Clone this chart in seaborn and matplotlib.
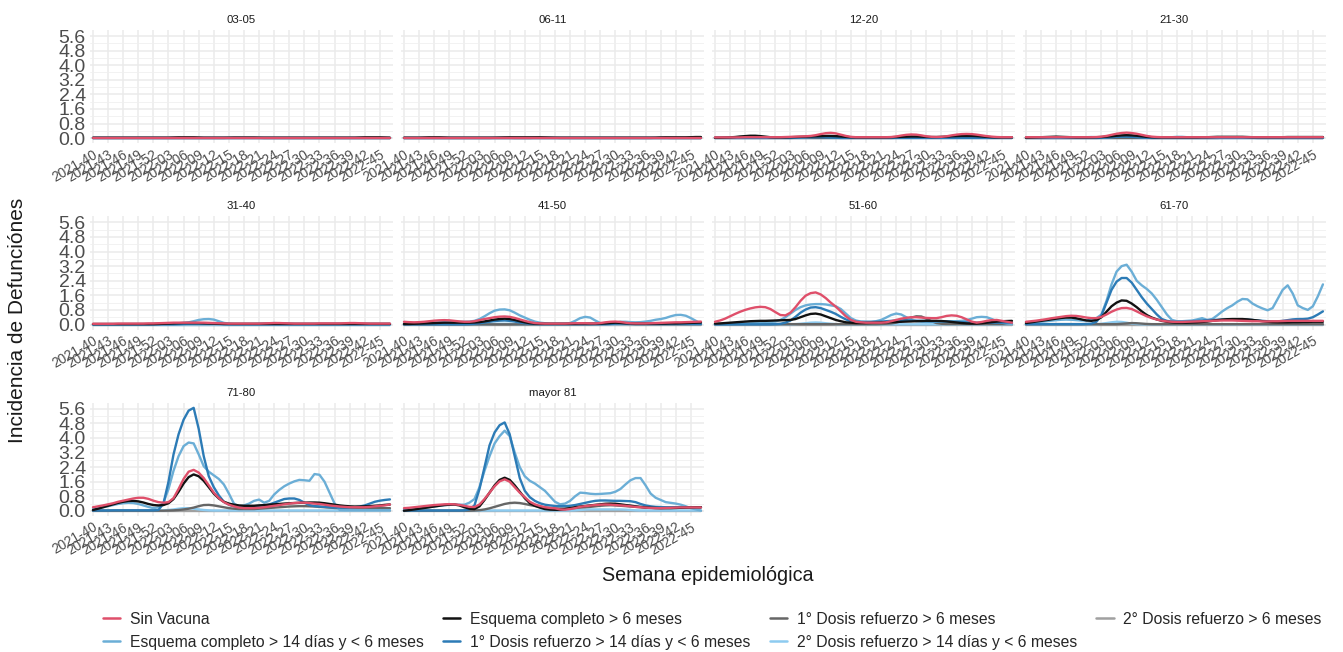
import numpy as np
import pandas as pd
import matplotlib
matplotlib.use("Agg")
import matplotlib.pyplot as plt
from matplotlib.lines import Line2D
from matplotlib.ticker import FixedLocator, AutoMinorLocator
import seaborn as sns

sns.set_style("white")
plt.rcParams["font.family"] = ["Liberation Sans", "DejaVu Sans"]

# ---------------- categories ----------------
weeks = [f"2021-{w:02d}" for w in range(40, 53)] + [f"2022-{w:02d}" for w in range(1, 48)]
tick_labels = weeks[::3]
y_ticks = [0.0, 0.8, 1.6, 2.4, 3.2, 4.0, 4.8, 5.6]

grupos = ["03-05", "06-11", "12-20", "21-30", "31-40", "41-50",
          "51-60", "61-70", "71-80", "mayor 81"]

series = ["Sin Vacuna",
          "Esquema completo > 14 días y < 6 meses",
          "Esquema completo > 6 meses",
          "1° Dosis refuerzo > 14 días y < 6 meses",
          "1° Dosis refuerzo > 6 meses",
          "2° Dosis refuerzo > 14 días y < 6 meses",
          "2° Dosis refuerzo > 6 meses"]
colores = ["#DF4F6A", "#6BAED6", "#111111", "#2C7BB6", "#666666", "#8DCBF0", "#A0A0A0"]

# ---------------- values (weekly, 2021-40 .. 2022-47) ----------------
# 03-05
sv_0305 = [0.03, 0.03, 0.03, 0.03, 0.03, 0.03, 0.03, 0.03, 0.03, 0.03,
           0.03, 0.03, 0.03, 0.03, 0.03, 0.03, 0.03, 0.03, 0.03, 0.03,
           0.03, 0.03, 0.03, 0.03, 0.03, 0.03, 0.03, 0.03, 0.03, 0.03,
           0.03, 0.03, 0.03, 0.03, 0.03, 0.03, 0.03, 0.03, 0.03, 0.03,
           0.03, 0.03, 0.03, 0.03, 0.03, 0.03, 0.03, 0.03, 0.03, 0.03,
           0.03, 0.03, 0.03, 0.03, 0.03, 0.03, 0.03, 0.03, 0.03, 0.03]
ec14_0305 = [0.01, 0.01, 0.01, 0.01, 0.01, 0.01, 0.01, 0.01, 0.01, 0.01,
             0.01, 0.01, 0.01, 0.01, 0.01, 0.01, 0.01, 0.01, 0.01, 0.01,
             0.01, 0.01, 0.01, 0.01, 0.01, 0.01, 0.01, 0.01, 0.01, 0.01,
             0.01, 0.01, 0.01, 0.01, 0.01, 0.01, 0.01, 0.01, 0.01, 0.01,
             0.01, 0.01, 0.01, 0.01, 0.01, 0.01, 0.01, 0.01, 0.01, 0.01,
             0.01, 0.01, 0.01, 0.01, 0.01, 0.01, 0.01, 0.01, 0.01, 0.01]
ec6_0305 = [0.02, 0.02, 0.02, 0.02, 0.02, 0.02, 0.02, 0.02, 0.02, 0.02,
            0.02, 0.02, 0.02, 0.02, 0.02, 0.02, 0.03, 0.04, 0.04, 0.04,
            0.04, 0.03, 0.02, 0.02, 0.02, 0.02, 0.02, 0.02, 0.02, 0.02,
            0.02, 0.02, 0.02, 0.02, 0.02, 0.02, 0.02, 0.02, 0.02, 0.02,
            0.02, 0.02, 0.02, 0.02, 0.02, 0.02, 0.02, 0.02, 0.02, 0.02,
            0.02, 0.02, 0.02, 0.03, 0.04, 0.04, 0.04, 0.04, 0.03, 0.02]
d114_0305 = [0, 0, 0, 0, 0, 0, 0, 0, 0, 0,
             0, 0, 0, 0, 0, 0, 0, 0, 0, 0,
             0, 0, 0, 0, 0, 0, 0, 0, 0, 0,
             0, 0, 0, 0, 0, 0, 0, 0, 0, 0,
             0, 0, 0, 0, 0, 0, 0, 0, 0, 0,
             0, 0, 0, 0, 0, 0, 0, 0, 0, 0]
d16_0305 = [0.01, 0.01, 0.01, 0.01, 0.01, 0.01, 0.01, 0.01, 0.01, 0.01,
            0.01, 0.01, 0.01, 0.01, 0.01, 0.01, 0.01, 0.01, 0.01, 0.01,
            0.01, 0.01, 0.01, 0.01, 0.01, 0.01, 0.01, 0.02, 0.04, 0.04,
            0.04, 0.04, 0.04, 0.02, 0.01, 0.01, 0.01, 0.01, 0.01, 0.01,
            0.01, 0.01, 0.01, 0.01, 0.01, 0.01, 0.01, 0.01, 0.01, 0.01,
            0.01, 0.01, 0.01, 0.01, 0.01, 0.01, 0.01, 0.01, 0.01, 0.01]
d214_0305 = [0, 0, 0, 0, 0, 0, 0, 0, 0, 0,
             0, 0, 0, 0, 0, 0, 0, 0, 0, 0,
             0, 0, 0, 0, 0, 0, 0, 0, 0, 0,
             0, 0, 0, 0, 0, 0, 0, 0, 0, 0,
             0, 0, 0, 0, 0, 0, 0, 0, 0, 0,
             0, 0, 0, 0, 0, 0, 0, 0, 0, 0]
d26_0305 = [0, 0, 0, 0, 0, 0, 0, 0, 0, 0,
            0, 0, 0, 0, 0, 0, 0, 0, 0, 0,
            0, 0, 0, 0, 0, 0, 0, 0, 0, 0,
            0, 0, 0, 0, 0, 0, 0, 0, 0, 0,
            0, 0, 0, 0, 0, 0, 0, 0, 0, 0,
            0, 0, 0, 0, 0, 0, 0, 0, 0, 0]

# 06-11
sv_0611 = [0.03, 0.03, 0.03, 0.03, 0.03, 0.03, 0.03, 0.03, 0.03, 0.03,
           0.03, 0.03, 0.03, 0.03, 0.03, 0.03, 0.03, 0.03, 0.03, 0.03,
           0.03, 0.03, 0.03, 0.03, 0.03, 0.03, 0.03, 0.03, 0.03, 0.03,
           0.03, 0.03, 0.03, 0.03, 0.03, 0.03, 0.03, 0.03, 0.03, 0.03,
           0.03, 0.03, 0.03, 0.03, 0.03, 0.03, 0.03, 0.03, 0.03, 0.03,
           0.03, 0.03, 0.03, 0.03, 0.03, 0.03, 0.03, 0.03, 0.03, 0.03]
ec14_0611 = [0.01, 0.01, 0.01, 0.01, 0.01, 0.01, 0.01, 0.01, 0.01, 0.01,
             0.01, 0.01, 0.01, 0.01, 0.01, 0.01, 0.01, 0.01, 0.01, 0.01,
             0.01, 0.01, 0.01, 0.01, 0.01, 0.01, 0.01, 0.01, 0.01, 0.01,
             0.01, 0.01, 0.01, 0.01, 0.01, 0.01, 0.01, 0.01, 0.01, 0.01,
             0.01, 0.01, 0.01, 0.01, 0.01, 0.01, 0.01, 0.01, 0.01, 0.01,
             0.01, 0.01, 0.01, 0.01, 0.01, 0.01, 0.01, 0.01, 0.01, 0.01]
ec6_0611 = [0.02, 0.02, 0.02, 0.02, 0.03, 0.04, 0.04, 0.04, 0.03, 0.02,
            0.02, 0.02, 0.02, 0.02, 0.02, 0.02, 0.02, 0.02, 0.02, 0.02,
            0.03, 0.04, 0.04, 0.04, 0.04, 0.04, 0.04, 0.04, 0.03, 0.02,
            0.02, 0.02, 0.02, 0.02, 0.02, 0.02, 0.02, 0.02, 0.02, 0.02,
            0.02, 0.02, 0.02, 0.02, 0.02, 0.02, 0.02, 0.02, 0.02, 0.02,
            0.02, 0.03, 0.04, 0.04, 0.04, 0.04, 0.04, 0.05, 0.06, 0.06]
d114_0611 = [0, 0, 0, 0, 0, 0, 0, 0, 0, 0,
             0, 0, 0, 0, 0, 0, 0, 0, 0, 0,
             0, 0, 0, 0, 0, 0, 0, 0, 0, 0,
             0, 0, 0, 0, 0, 0, 0, 0, 0, 0,
             0, 0, 0, 0, 0, 0, 0, 0, 0, 0,
             0, 0, 0, 0, 0, 0, 0, 0, 0, 0]
d16_0611 = [0.01, 0.01, 0.01, 0.01, 0.01, 0.01, 0.01, 0.01, 0.01, 0.01,
            0.01, 0.01, 0.01, 0.01, 0.01, 0.01, 0.01, 0.01, 0.02, 0.04,
            0.04, 0.02, 0.01, 0.01, 0.01, 0.01, 0.02, 0.04, 0.04, 0.04,
            0.02, 0.01, 0.01, 0.01, 0.01, 0.01, 0.01, 0.01, 0.01, 0.01,
            0.01, 0.01, 0.01, 0.01, 0.01, 0.01, 0.01, 0.01, 0.01, 0.01,
            0.02, 0.04, 0.02, 0.01, 0.01, 0.01, 0.01, 0.01, 0.01, 0.01]
d214_0611 = [0, 0, 0, 0, 0, 0, 0, 0, 0, 0,
             0, 0, 0, 0, 0, 0, 0, 0, 0, 0,
             0, 0, 0, 0, 0, 0, 0, 0, 0, 0,
             0, 0, 0, 0, 0, 0, 0, 0, 0, 0,
             0, 0, 0, 0, 0, 0, 0, 0, 0, 0,
             0, 0, 0, 0, 0, 0, 0, 0, 0, 0]
d26_0611 = [0, 0, 0, 0, 0, 0, 0, 0, 0, 0,
            0, 0, 0, 0, 0, 0, 0, 0, 0, 0,
            0, 0, 0, 0, 0, 0, 0, 0, 0, 0,
            0, 0, 0, 0, 0, 0, 0, 0, 0, 0,
            0, 0, 0, 0, 0, 0, 0, 0, 0, 0,
            0, 0, 0, 0, 0, 0, 0, 0, 0, 0]

# 12-20
sv_1220 = [0.04, 0.04, 0.04, 0.04, 0.04, 0.04, 0.05, 0.05, 0.05, 0.05,
           0.05, 0.05, 0.05, 0.05, 0.06, 0.07, 0.08, 0.09, 0.10, 0.12,
           0.16, 0.22, 0.27, 0.29, 0.26, 0.19, 0.12, 0.07, 0.05, 0.05,
           0.05, 0.05, 0.05, 0.05, 0.05, 0.06, 0.09, 0.14, 0.18, 0.20,
           0.19, 0.15, 0.10, 0.07, 0.06, 0.07, 0.10, 0.15, 0.19, 0.22,
           0.23, 0.22, 0.19, 0.15, 0.11, 0.08, 0.06, 0.05, 0.05, 0.05]
ec14_1220 = [0.02, 0.02, 0.02, 0.02, 0.02, 0.02, 0.02, 0.02, 0.02, 0.02,
             0.02, 0.02, 0.02, 0.02, 0.02, 0.03, 0.03, 0.04, 0.05, 0.06,
             0.07, 0.07, 0.07, 0.06, 0.05, 0.04, 0.03, 0.02, 0.02, 0.02,
             0.02, 0.02, 0.02, 0.02, 0.02, 0.03, 0.04, 0.05, 0.05, 0.05,
             0.04, 0.03, 0.02, 0.02, 0.02, 0.02, 0.02, 0.02, 0.02, 0.02,
             0.02, 0.02, 0.02, 0.02, 0.02, 0.02, 0.02, 0.02, 0.02, 0.02]
ec6_1220 = [0.02, 0.02, 0.03, 0.04, 0.06, 0.09, 0.11, 0.13, 0.13, 0.11,
            0.08, 0.05, 0.04, 0.04, 0.04, 0.05, 0.06, 0.07, 0.08, 0.09,
            0.10, 0.11, 0.12, 0.12, 0.11, 0.09, 0.07, 0.05, 0.04, 0.04,
            0.04, 0.04, 0.04, 0.04, 0.04, 0.05, 0.06, 0.07, 0.08, 0.09,
            0.09, 0.08, 0.07, 0.06, 0.06, 0.07, 0.08, 0.10, 0.11, 0.12,
            0.12, 0.12, 0.11, 0.09, 0.07, 0.05, 0.04, 0.04, 0.04, 0.04]
d114_1220 = [0.01, 0.01, 0.01, 0.01, 0.01, 0.01, 0.01, 0.01, 0.01, 0.01,
             0.01, 0.01, 0.01, 0.01, 0.01, 0.01, 0.02, 0.03, 0.04, 0.05,
             0.05, 0.05, 0.04, 0.03, 0.02, 0.01, 0.01, 0.01, 0.01, 0.01,
             0.01, 0.01, 0.01, 0.01, 0.01, 0.01, 0.01, 0.01, 0.01, 0.01,
             0.01, 0.01, 0.01, 0.01, 0.01, 0.01, 0.01, 0.01, 0.01, 0.01,
             0.01, 0.01, 0.01, 0.01, 0.01, 0.01, 0.01, 0.01, 0.01, 0.01]
d16_1220 = [0.01, 0.01, 0.01, 0.01, 0.01, 0.01, 0.01, 0.01, 0.01, 0.01,
            0.01, 0.01, 0.01, 0.01, 0.01, 0.01, 0.01, 0.01, 0.01, 0.01,
            0.01, 0.01, 0.01, 0.01, 0.01, 0.01, 0.01, 0.01, 0.01, 0.01,
            0.01, 0.01, 0.01, 0.01, 0.01, 0.01, 0.02, 0.03, 0.04, 0.05,
            0.05, 0.04, 0.03, 0.02, 0.02, 0.02, 0.03, 0.04, 0.05, 0.06,
            0.06, 0.06, 0.05, 0.04, 0.03, 0.02, 0.02, 0.02, 0.02, 0.02]
d214_1220 = [0, 0, 0, 0, 0, 0, 0, 0, 0, 0,
             0, 0, 0, 0, 0, 0, 0, 0, 0, 0,
             0, 0, 0, 0, 0, 0, 0, 0, 0, 0,
             0, 0, 0, 0, 0, 0, 0, 0, 0, 0,
             0, 0, 0, 0, 0, 0, 0, 0, 0, 0,
             0, 0, 0, 0, 0, 0, 0, 0, 0, 0]
d26_1220 = [0, 0, 0, 0, 0, 0, 0, 0, 0, 0,
            0, 0, 0, 0, 0, 0, 0, 0, 0, 0,
            0, 0, 0, 0, 0, 0, 0, 0, 0, 0,
            0, 0, 0, 0, 0, 0, 0, 0, 0, 0,
            0, 0, 0, 0, 0, 0, 0, 0, 0, 0,
            0, 0, 0, 0, 0, 0, 0, 0, 0, 0]

# 21-30
sv_2130 = [0.05, 0.05, 0.05, 0.05, 0.05, 0.05, 0.05, 0.05, 0.05, 0.05,
           0.05, 0.05, 0.05, 0.05, 0.06, 0.08, 0.12, 0.18, 0.24, 0.28,
           0.30, 0.28, 0.24, 0.18, 0.12, 0.08, 0.06, 0.05, 0.05, 0.05,
           0.05, 0.05, 0.05, 0.05, 0.05, 0.05, 0.05, 0.05, 0.05, 0.05,
           0.05, 0.05, 0.05, 0.05, 0.05, 0.05, 0.05, 0.05, 0.05, 0.05,
           0.05, 0.05, 0.05, 0.05, 0.05, 0.05, 0.05, 0.05, 0.05, 0.05]
ec14_2130 = [0.02, 0.02, 0.02, 0.02, 0.02, 0.02, 0.02, 0.02, 0.02, 0.02,
             0.02, 0.03, 0.05, 0.06, 0.05, 0.04, 0.05, 0.06, 0.08, 0.09,
             0.10, 0.09, 0.07, 0.05, 0.03, 0.02, 0.02, 0.02, 0.03, 0.05,
             0.07, 0.07, 0.05, 0.03, 0.02, 0.02, 0.02, 0.02, 0.02, 0.02,
             0.02, 0.02, 0.02, 0.02, 0.02, 0.02, 0.02, 0.02, 0.02, 0.02,
             0.02, 0.02, 0.02, 0.02, 0.02, 0.02, 0.02, 0.02, 0.02, 0.02]
ec6_2130 = [0.02, 0.03, 0.04, 0.05, 0.06, 0.07, 0.08, 0.07, 0.06, 0.05,
            0.04, 0.04, 0.04, 0.04, 0.05, 0.06, 0.08, 0.10, 0.13, 0.15,
            0.16, 0.15, 0.13, 0.10, 0.07, 0.05, 0.04, 0.04, 0.04, 0.04,
            0.04, 0.04, 0.04, 0.04, 0.04, 0.05, 0.05, 0.06, 0.07, 0.07,
            0.07, 0.07, 0.07, 0.07, 0.06, 0.05, 0.05, 0.05, 0.05, 0.05,
            0.05, 0.05, 0.06, 0.06, 0.06, 0.06, 0.06, 0.06, 0.06, 0.06]
d114_2130 = [0.01, 0.01, 0.01, 0.01, 0.01, 0.01, 0.01, 0.01, 0.01, 0.01,
             0.01, 0.01, 0.01, 0.01, 0.01, 0.02, 0.03, 0.05, 0.07, 0.08,
             0.08, 0.07, 0.05, 0.03, 0.02, 0.01, 0.01, 0.01, 0.01, 0.01,
             0.01, 0.01, 0.01, 0.01, 0.01, 0.01, 0.01, 0.01, 0.01, 0.01,
             0.01, 0.01, 0.01, 0.01, 0.01, 0.01, 0.01, 0.01, 0.01, 0.01,
             0.01, 0.01, 0.01, 0.01, 0.01, 0.01, 0.01, 0.01, 0.01, 0.01]
d16_2130 = [0.01, 0.01, 0.01, 0.01, 0.01, 0.01, 0.01, 0.01, 0.01, 0.01,
            0.01, 0.01, 0.01, 0.01, 0.01, 0.01, 0.01, 0.01, 0.01, 0.01,
            0.01, 0.01, 0.01, 0.01, 0.01, 0.01, 0.01, 0.01, 0.01, 0.01,
            0.01, 0.01, 0.01, 0.01, 0.01, 0.01, 0.01, 0.01, 0.01, 0.02,
            0.03, 0.05, 0.05, 0.05, 0.03, 0.02, 0.01, 0.01, 0.01, 0.01,
            0.01, 0.01, 0.01, 0.01, 0.01, 0.01, 0.01, 0.01, 0.01, 0.01]
d214_2130 = [0, 0, 0, 0, 0, 0, 0, 0, 0, 0,
             0, 0, 0, 0, 0, 0, 0, 0, 0, 0,
             0, 0, 0, 0, 0, 0, 0, 0, 0, 0,
             0, 0, 0, 0, 0, 0, 0, 0, 0, 0,
             0, 0, 0, 0, 0, 0, 0, 0, 0, 0,
             0, 0, 0, 0, 0, 0, 0, 0, 0, 0]
d26_2130 = [0, 0, 0, 0, 0, 0, 0, 0, 0, 0,
            0, 0, 0, 0, 0, 0, 0, 0, 0, 0,
            0, 0, 0, 0, 0, 0, 0, 0, 0, 0,
            0, 0, 0, 0, 0, 0, 0, 0, 0, 0,
            0, 0, 0, 0, 0, 0, 0, 0, 0, 0,
            0, 0, 0, 0, 0, 0, 0, 0, 0, 0]

# 31-40
sv_3140 = [0.04, 0.04, 0.04, 0.04, 0.04, 0.05, 0.05, 0.05, 0.05, 0.05,
           0.05, 0.06, 0.06, 0.07, 0.08, 0.09, 0.10, 0.10, 0.10, 0.10,
           0.10, 0.10, 0.10, 0.09, 0.08, 0.07, 0.06, 0.05, 0.05, 0.05,
           0.05, 0.05, 0.05, 0.05, 0.06, 0.07, 0.08, 0.08, 0.07, 0.06,
           0.05, 0.05, 0.05, 0.05, 0.05, 0.06, 0.06, 0.06, 0.06, 0.06,
           0.07, 0.08, 0.08, 0.07, 0.06, 0.05, 0.05, 0.05, 0.05, 0.05]
ec14_3140 = [0.02, 0.02, 0.02, 0.02, 0.02, 0.02, 0.02, 0.02, 0.02, 0.02,
             0.02, 0.02, 0.03, 0.03, 0.04, 0.05, 0.06, 0.07, 0.09, 0.12,
             0.18, 0.25, 0.29, 0.30, 0.27, 0.18, 0.09, 0.05, 0.03, 0.03,
             0.03, 0.03, 0.03, 0.04, 0.05, 0.07, 0.08, 0.07, 0.05, 0.04,
             0.03, 0.03, 0.03, 0.03, 0.03, 0.03, 0.03, 0.03, 0.03, 0.03,
             0.03, 0.03, 0.03, 0.03, 0.03, 0.03, 0.03, 0.03, 0.03, 0.03]
ec6_3140 = [0.02, 0.02, 0.02, 0.02, 0.02, 0.02, 0.02, 0.02, 0.02, 0.02,
            0.02, 0.02, 0.02, 0.03, 0.04, 0.05, 0.06, 0.07, 0.08, 0.08,
            0.08, 0.08, 0.07, 0.06, 0.05, 0.04, 0.03, 0.03, 0.03, 0.03,
            0.03, 0.03, 0.03, 0.03, 0.03, 0.03, 0.03, 0.03, 0.03, 0.03,
            0.03, 0.03, 0.03, 0.03, 0.03, 0.03, 0.03, 0.03, 0.03, 0.03,
            0.03, 0.03, 0.03, 0.03, 0.03, 0.03, 0.03, 0.03, 0.03, 0.03]
d114_3140 = [0.01, 0.01, 0.01, 0.01, 0.01, 0.01, 0.01, 0.01, 0.01, 0.01,
             0.01, 0.01, 0.01, 0.01, 0.01, 0.01, 0.01, 0.02, 0.03, 0.04,
             0.05, 0.05, 0.05, 0.05, 0.04, 0.03, 0.02, 0.01, 0.01, 0.01,
             0.01, 0.01, 0.01, 0.01, 0.01, 0.01, 0.01, 0.01, 0.01, 0.01,
             0.01, 0.01, 0.01, 0.01, 0.01, 0.01, 0.01, 0.01, 0.01, 0.01,
             0.01, 0.01, 0.01, 0.01, 0.01, 0.01, 0.01, 0.01, 0.01, 0.01]
d16_3140 = [0.01, 0.01, 0.01, 0.01, 0.01, 0.01, 0.01, 0.01, 0.01, 0.01,
            0.01, 0.01, 0.01, 0.01, 0.01, 0.01, 0.01, 0.01, 0.01, 0.01,
            0.01, 0.01, 0.01, 0.01, 0.01, 0.01, 0.01, 0.01, 0.01, 0.01,
            0.01, 0.01, 0.01, 0.01, 0.01, 0.01, 0.01, 0.01, 0.01, 0.01,
            0.01, 0.01, 0.01, 0.01, 0.01, 0.01, 0.01, 0.01, 0.01, 0.01,
            0.01, 0.01, 0.01, 0.01, 0.01, 0.01, 0.01, 0.01, 0.01, 0.01]
d214_3140 = [0, 0, 0, 0, 0, 0, 0, 0, 0, 0,
             0, 0, 0, 0, 0, 0, 0, 0, 0, 0,
             0, 0, 0, 0, 0, 0, 0, 0, 0, 0,
             0, 0, 0, 0, 0, 0, 0, 0, 0, 0,
             0, 0, 0, 0, 0, 0, 0, 0, 0, 0,
             0, 0, 0, 0, 0, 0, 0, 0, 0, 0]
d26_3140 = [0, 0, 0, 0, 0, 0, 0, 0, 0, 0,
            0, 0, 0, 0, 0, 0, 0, 0, 0, 0,
            0, 0, 0, 0, 0, 0, 0, 0, 0, 0,
            0, 0, 0, 0, 0, 0, 0, 0, 0, 0,
            0, 0, 0, 0, 0, 0, 0, 0, 0, 0,
            0, 0, 0, 0, 0, 0, 0, 0, 0, 0]

# 41-50
sv_4150 = [0.15, 0.13, 0.12, 0.13, 0.15, 0.18, 0.21, 0.23, 0.24, 0.23,
           0.20, 0.17, 0.15, 0.15, 0.18, 0.24, 0.30, 0.35, 0.40, 0.43,
           0.44, 0.42, 0.36, 0.28, 0.20, 0.13, 0.08, 0.06, 0.05, 0.05,
           0.05, 0.05, 0.05, 0.06, 0.07, 0.07, 0.07, 0.06, 0.06, 0.08,
           0.12, 0.15, 0.16, 0.14, 0.10, 0.07, 0.06, 0.06, 0.06, 0.07,
           0.08, 0.09, 0.10, 0.11, 0.12, 0.12, 0.13, 0.14, 0.15, 0.16]
ec14_4150 = [0.05, 0.05, 0.05, 0.06, 0.07, 0.08, 0.10, 0.12, 0.13, 0.14,
             0.15, 0.15, 0.15, 0.16, 0.20, 0.30, 0.45, 0.62, 0.76, 0.82,
             0.83, 0.78, 0.65, 0.50, 0.38, 0.26, 0.16, 0.10, 0.07, 0.05,
             0.05, 0.05, 0.05, 0.08, 0.20, 0.35, 0.42, 0.38, 0.22, 0.08,
             0.05, 0.06, 0.10, 0.15, 0.15, 0.13, 0.12, 0.13, 0.16, 0.20,
             0.26, 0.30, 0.36, 0.45, 0.52, 0.53, 0.48, 0.35, 0.20, 0.05]
ec6_4150 = [0.03, 0.03, 0.04, 0.05, 0.06, 0.07, 0.08, 0.09, 0.10, 0.10,
            0.10, 0.10, 0.10, 0.10, 0.11, 0.13, 0.17, 0.22, 0.27, 0.30,
            0.32, 0.30, 0.25, 0.18, 0.12, 0.07, 0.05, 0.04, 0.04, 0.04,
            0.04, 0.04, 0.04, 0.04, 0.04, 0.05, 0.05, 0.05, 0.05, 0.05,
            0.06, 0.08, 0.10, 0.09, 0.07, 0.06, 0.05, 0.05, 0.05, 0.05,
            0.05, 0.05, 0.05, 0.06, 0.06, 0.07, 0.08, 0.09, 0.10, 0.11]
d114_4150 = [0.01, 0.01, 0.01, 0.01, 0.01, 0.01, 0.01, 0.01, 0.01, 0.01,
             0.01, 0.01, 0.01, 0.02, 0.04, 0.07, 0.11, 0.15, 0.19, 0.21,
             0.22, 0.20, 0.16, 0.11, 0.07, 0.04, 0.03, 0.02, 0.02, 0.02,
             0.02, 0.02, 0.02, 0.02, 0.02, 0.02, 0.02, 0.02, 0.02, 0.02,
             0.02, 0.03, 0.05, 0.06, 0.05, 0.04, 0.03, 0.03, 0.03, 0.03,
             0.03, 0.03, 0.03, 0.03, 0.03, 0.03, 0.03, 0.03, 0.03, 0.03]
d16_4150 = [0.01, 0.01, 0.01, 0.01, 0.01, 0.01, 0.01, 0.01, 0.01, 0.01,
            0.01, 0.01, 0.01, 0.01, 0.01, 0.01, 0.01, 0.01, 0.01, 0.01,
            0.01, 0.01, 0.01, 0.01, 0.01, 0.01, 0.01, 0.01, 0.01, 0.01,
            0.01, 0.01, 0.01, 0.01, 0.01, 0.01, 0.01, 0.01, 0.02, 0.03,
            0.04, 0.05, 0.05, 0.05, 0.04, 0.03, 0.02, 0.02, 0.02, 0.02,
            0.02, 0.02, 0.02, 0.02, 0.02, 0.02, 0.02, 0.02, 0.02, 0.02]
d214_4150 = [0.01, 0.01, 0.01, 0.01, 0.01, 0.01, 0.01, 0.01, 0.01, 0.01,
             0.01, 0.01, 0.01, 0.01, 0.01, 0.01, 0.01, 0.02, 0.04, 0.04,
             0.04, 0.04, 0.02, 0.01, 0.01, 0.01, 0.01, 0.01, 0.01, 0.01,
             0.01, 0.01, 0.01, 0.01, 0.01, 0.01, 0.01, 0.01, 0.01, 0.01,
             0.01, 0.01, 0.01, 0.01, 0.01, 0.01, 0.01, 0.01, 0.01, 0.01,
             0.01, 0.01, 0.01, 0.01, 0.01, 0.01, 0.01, 0.01, 0.01, 0.01]
d26_4150 = [0, 0, 0, 0, 0, 0, 0, 0, 0, 0,
            0, 0, 0, 0, 0, 0, 0, 0, 0, 0,
            0, 0, 0, 0, 0, 0, 0, 0, 0, 0,
            0, 0, 0, 0, 0, 0, 0, 0, 0, 0,
            0, 0, 0, 0, 0, 0, 0, 0, 0, 0,
            0, 0, 0, 0, 0, 0, 0, 0, 0, 0]

# 51-60
sv_5160 = [0.15, 0.22, 0.32, 0.45, 0.58, 0.70, 0.80, 0.88, 0.94, 0.97,
           0.95, 0.85, 0.68, 0.52, 0.50, 0.65, 0.95, 1.30, 1.58, 1.72,
           1.76, 1.65, 1.45, 1.20, 0.98, 0.72, 0.45, 0.25, 0.15, 0.12,
           0.10, 0.10, 0.10, 0.10, 0.12, 0.18, 0.25, 0.32, 0.37, 0.40,
           0.40, 0.38, 0.36, 0.35, 0.35, 0.40, 0.47, 0.50, 0.48, 0.40,
           0.28, 0.16, 0.10, 0.14, 0.20, 0.24, 0.25, 0.20, 0.15, 0.10]
ec14_5160 = [0.02, 0.02, 0.03, 0.03, 0.04, 0.05, 0.06, 0.07, 0.08, 0.10,
             0.12, 0.14, 0.16, 0.25, 0.40, 0.60, 0.80, 0.95, 1.05, 1.10,
             1.12, 1.12, 1.10, 1.05, 1.00, 0.85, 0.60, 0.35, 0.22, 0.16,
             0.15, 0.15, 0.18, 0.25, 0.38, 0.52, 0.60, 0.55, 0.40, 0.25,
             0.18, 0.15, 0.14, 0.14, 0.15, 0.16, 0.17, 0.18, 0.18, 0.20,
             0.24, 0.32, 0.40, 0.42, 0.40, 0.30, 0.18, 0.10, 0.05, 0.03]
ec6_5160 = [0.05, 0.06, 0.08, 0.10, 0.12, 0.14, 0.16, 0.18, 0.19, 0.20,
            0.20, 0.21, 0.22, 0.23, 0.24, 0.25, 0.30, 0.40, 0.50, 0.58,
            0.60, 0.55, 0.45, 0.35, 0.25, 0.18, 0.12, 0.10, 0.08, 0.08,
            0.08, 0.09, 0.10, 0.11, 0.12, 0.13, 0.14, 0.15, 0.16, 0.17,
            0.18, 0.19, 0.20, 0.20, 0.20, 0.19, 0.17, 0.14, 0.11, 0.08,
            0.06, 0.05, 0.05, 0.07, 0.10, 0.13, 0.16, 0.18, 0.19, 0.20]
d114_5160 = [0.01, 0.01, 0.01, 0.01, 0.01, 0.01, 0.01, 0.01, 0.01, 0.01,
             0.01, 0.01, 0.02, 0.04, 0.10, 0.22, 0.42, 0.65, 0.82, 0.93,
             0.95, 0.90, 0.80, 0.70, 0.58, 0.42, 0.28, 0.18, 0.15, 0.14,
             0.14, 0.14, 0.15, 0.16, 0.18, 0.20, 0.22, 0.22, 0.22, 0.22,
             0.21, 0.20, 0.19, 0.18, 0.18, 0.17, 0.16, 0.15, 0.14, 0.13,
             0.12, 0.11, 0.10, 0.10, 0.10, 0.10, 0.10, 0.10, 0.10, 0.10]
d16_5160 = [0.02, 0.02, 0.02, 0.02, 0.02, 0.02, 0.02, 0.02, 0.02, 0.02,
            0.02, 0.02, 0.02, 0.02, 0.02, 0.02, 0.02, 0.02, 0.02, 0.02,
            0.02, 0.02, 0.02, 0.02, 0.02, 0.02, 0.02, 0.02, 0.02, 0.02,
            0.02, 0.02, 0.02, 0.03, 0.04, 0.06, 0.10, 0.18, 0.28, 0.38,
            0.45, 0.44, 0.32, 0.18, 0.08, 0.04, 0.03, 0.03, 0.03, 0.03,
            0.03, 0.03, 0.03, 0.03, 0.03, 0.03, 0.03, 0.03, 0.03, 0.03]
d214_5160 = [0.01, 0.01, 0.01, 0.01, 0.01, 0.01, 0.01, 0.01, 0.01, 0.01,
             0.01, 0.01, 0.01, 0.01, 0.01, 0.01, 0.02, 0.04, 0.07, 0.10,
             0.11, 0.10, 0.07, 0.04, 0.02, 0.01, 0.01, 0.01, 0.01, 0.01,
             0.01, 0.01, 0.01, 0.01, 0.01, 0.01, 0.01, 0.01, 0.01, 0.01,
             0.01, 0.01, 0.01, 0.01, 0.01, 0.01, 0.01, 0.01, 0.01, 0.01,
             0.01, 0.01, 0.01, 0.01, 0.01, 0.01, 0.01, 0.01, 0.01, 0.01]
d26_5160 = [0, 0, 0, 0, 0, 0, 0, 0, 0, 0,
            0, 0, 0, 0, 0, 0, 0, 0, 0, 0,
            0, 0, 0, 0, 0, 0, 0, 0, 0, 0,
            0, 0, 0, 0, 0, 0, 0, 0, 0, 0,
            0, 0, 0, 0, 0, 0, 0, 0, 0, 0,
            0, 0, 0, 0, 0, 0, 0, 0, 0, 0]

# 61-70
sv_6170 = [0.15, 0.18, 0.21, 0.25, 0.29, 0.34, 0.38, 0.42, 0.46, 0.48,
           0.47, 0.43, 0.38, 0.35, 0.35, 0.42, 0.55, 0.70, 0.82, 0.90,
           0.91, 0.85, 0.72, 0.58, 0.45, 0.35, 0.27, 0.21, 0.17, 0.15,
           0.14, 0.14, 0.15, 0.16, 0.17, 0.18, 0.19, 0.20, 0.21, 0.22,
           0.22, 0.22, 0.21, 0.20, 0.19, 0.18, 0.18, 0.17, 0.17, 0.18,
           0.18, 0.19, 0.20, 0.20, 0.20, 0.20, 0.20, 0.20, 0.20, 0.20]
ec14_6170 = [0.08, 0.10, 0.12, 0.15, 0.18, 0.21, 0.24, 0.26, 0.27, 0.26,
             0.24, 0.22, 0.22, 0.26, 0.35, 0.55, 1.30, 2.20, 2.90, 3.20,
             3.28, 2.90, 2.40, 2.15, 1.95, 1.70, 1.35, 0.95, 0.55, 0.25,
             0.18, 0.18, 0.20, 0.22, 0.28, 0.35, 0.25, 0.30, 0.50, 0.72,
             0.90, 1.05, 1.25, 1.40, 1.38, 1.15, 1.00, 0.88, 0.78, 0.90,
             1.40, 1.90, 2.15, 1.70, 1.05, 0.90, 0.80, 1.00, 1.55, 2.20]
ec6_6170 = [0.08, 0.12, 0.16, 0.20, 0.24, 0.28, 0.32, 0.36, 0.38, 0.38,
            0.34, 0.28, 0.22, 0.20, 0.25, 0.40, 0.70, 1.00, 1.20, 1.32,
            1.30, 1.15, 0.95, 0.72, 0.52, 0.38, 0.28, 0.20, 0.15, 0.12,
            0.10, 0.10, 0.10, 0.11, 0.12, 0.14, 0.16, 0.20, 0.24, 0.27,
            0.29, 0.30, 0.30, 0.30, 0.28, 0.25, 0.22, 0.18, 0.15, 0.13,
            0.12, 0.12, 0.12, 0.13, 0.13, 0.14, 0.14, 0.15, 0.15, 0.15]
d114_6170 = [0.02, 0.02, 0.02, 0.02, 0.02, 0.02, 0.02, 0.02, 0.02, 0.02,
             0.02, 0.02, 0.03, 0.05, 0.15, 0.50, 1.20, 1.90, 2.35, 2.55,
             2.55, 2.30, 1.90, 1.50, 1.15, 0.85, 0.55, 0.30, 0.20, 0.16,
             0.15, 0.15, 0.16, 0.18, 0.20, 0.22, 0.24, 0.25, 0.26, 0.27,
             0.28, 0.28, 0.28, 0.28, 0.27, 0.25, 0.22, 0.20, 0.18, 0.17,
             0.17, 0.20, 0.24, 0.28, 0.30, 0.30, 0.32, 0.40, 0.55, 0.72]
d16_6170 = [0.02, 0.02, 0.02, 0.02, 0.02, 0.02, 0.02, 0.02, 0.02, 0.02,
            0.02, 0.02, 0.02, 0.02, 0.02, 0.02, 0.02, 0.02, 0.02, 0.04,
            0.06, 0.08, 0.07, 0.05, 0.03, 0.02, 0.02, 0.02, 0.02, 0.02,
            0.02, 0.02, 0.02, 0.02, 0.02, 0.02, 0.02, 0.02, 0.02, 0.02,
            0.02, 0.02, 0.02, 0.02, 0.02, 0.02, 0.02, 0.02, 0.02, 0.02,
            0.02, 0.02, 0.02, 0.02, 0.02, 0.02, 0.02, 0.02, 0.02, 0.02]
d214_6170 = [0.01, 0.01, 0.01, 0.01, 0.01, 0.01, 0.01, 0.01, 0.01, 0.01,
             0.01, 0.01, 0.01, 0.01, 0.01, 0.04, 0.08, 0.12, 0.15, 0.14,
             0.10, 0.05, 0.02, 0.01, 0.01, 0.01, 0.01, 0.01, 0.01, 0.01,
             0.01, 0.01, 0.01, 0.01, 0.01, 0.01, 0.01, 0.01, 0.01, 0.01,
             0.01, 0.01, 0.01, 0.01, 0.01, 0.01, 0.01, 0.01, 0.01, 0.01,
             0.01, 0.01, 0.01, 0.01, 0.01, 0.01, 0.01, 0.01, 0.01, 0.01]
d26_6170 = [0, 0, 0, 0, 0, 0, 0, 0, 0, 0,
            0, 0, 0, 0, 0, 0, 0, 0, 0, 0,
            0, 0, 0, 0, 0, 0, 0, 0, 0, 0,
            0, 0, 0, 0, 0, 0, 0, 0, 0, 0,
            0, 0, 0, 0, 0, 0, 0, 0, 0, 0,
            0, 0, 0, 0, 0, 0, 0, 0, 0, 0]

# 71-80
sv_7180 = [0.20, 0.25, 0.30, 0.36, 0.42, 0.50, 0.56, 0.62, 0.68, 0.72,
           0.72, 0.66, 0.56, 0.48, 0.45, 0.48, 0.70, 1.20, 1.75, 2.15,
           2.25, 2.10, 1.80, 1.40, 1.00, 0.70, 0.48, 0.34, 0.25, 0.18,
           0.15, 0.15, 0.15, 0.17, 0.20, 0.24, 0.28, 0.32, 0.36, 0.40,
           0.43, 0.45, 0.45, 0.43, 0.40, 0.38, 0.34, 0.30, 0.27, 0.24,
           0.22, 0.20, 0.20, 0.20, 0.20, 0.22, 0.25, 0.28, 0.30, 0.35]
ec14_7180 = [0.10, 0.14, 0.20, 0.26, 0.32, 0.38, 0.42, 0.44, 0.43, 0.38,
             0.30, 0.22, 0.15, 0.20, 0.45, 1.20, 2.20, 3.00, 3.55, 3.75,
             3.70, 3.10, 2.45, 2.15, 1.95, 1.75, 1.45, 0.95, 0.40, 0.25,
             0.30, 0.40, 0.55, 0.62, 0.45, 0.55, 0.90, 1.15, 1.35, 1.50,
             1.62, 1.70, 1.68, 1.65, 2.02, 1.98, 1.60, 1.00, 0.40, 0.05,
             0.04, 0.04, 0.04, 0.04, 0.04, 0.04, 0.04, 0.04, 0.04, 0.04]
ec6_7180 = [0.05, 0.12, 0.20, 0.28, 0.36, 0.44, 0.50, 0.54, 0.55, 0.52,
            0.46, 0.38, 0.32, 0.30, 0.32, 0.42, 0.65, 1.05, 1.50, 1.85,
            2.00, 1.90, 1.65, 1.30, 0.95, 0.68, 0.50, 0.40, 0.34, 0.30,
            0.28, 0.28, 0.28, 0.30, 0.32, 0.34, 0.36, 0.38, 0.40, 0.42,
            0.43, 0.44, 0.45, 0.46, 0.46, 0.45, 0.42, 0.38, 0.34, 0.30,
            0.27, 0.25, 0.24, 0.24, 0.25, 0.26, 0.28, 0.30, 0.33, 0.35]
d114_7180 = [0.02, 0.02, 0.02, 0.02, 0.03, 0.03, 0.03, 0.03, 0.03, 0.03,
             0.03, 0.03, 0.03, 0.05, 0.40, 1.60, 3.10, 4.20, 5.00, 5.50,
             5.65, 4.50, 3.00, 1.90, 1.30, 0.85, 0.50, 0.34, 0.25, 0.22,
             0.22, 0.24, 0.26, 0.28, 0.30, 0.35, 0.45, 0.55, 0.65, 0.68,
             0.68, 0.60, 0.45, 0.32, 0.26, 0.24, 0.22, 0.20, 0.18, 0.18,
             0.18, 0.18, 0.20, 0.24, 0.30, 0.40, 0.50, 0.56, 0.60, 0.63]
d16_7180 = [0.01, 0.01, 0.01, 0.01, 0.01, 0.01, 0.01, 0.01, 0.01, 0.01,
            0.01, 0.01, 0.01, 0.01, 0.01, 0.02, 0.03, 0.05, 0.08, 0.12,
            0.18, 0.26, 0.32, 0.33, 0.30, 0.25, 0.20, 0.15, 0.12, 0.10,
            0.10, 0.10, 0.10, 0.12, 0.14, 0.16, 0.18, 0.20, 0.22, 0.24,
            0.25, 0.26, 0.26, 0.25, 0.24, 0.22, 0.20, 0.18, 0.16, 0.15,
            0.14, 0.14, 0.14, 0.14, 0.15, 0.15, 0.15, 0.15, 0.15, 0.15]
d214_7180 = [0.02, 0.02, 0.02, 0.02, 0.02, 0.02, 0.02, 0.02, 0.02, 0.02,
             0.02, 0.02, 0.02, 0.02, 0.03, 0.05, 0.08, 0.12, 0.15, 0.15,
             0.12, 0.08, 0.05, 0.03, 0.02, 0.02, 0.02, 0.02, 0.02, 0.02,
             0.02, 0.02, 0.02, 0.02, 0.02, 0.02, 0.02, 0.02, 0.02, 0.02,
             0.02, 0.02, 0.02, 0.02, 0.02, 0.02, 0.02, 0.02, 0.02, 0.02,
             0.02, 0.02, 0.02, 0.02, 0.02, 0.02, 0.02, 0.02, 0.02, 0.02]
d26_7180 = [0, 0, 0, 0, 0, 0, 0, 0, 0, 0,
            0, 0, 0, 0, 0, 0, 0, 0, 0, 0,
            0, 0, 0, 0, 0, 0, 0, 0, 0, 0,
            0, 0, 0, 0, 0, 0, 0, 0, 0, 0,
            0, 0, 0, 0, 0, 0, 0, 0, 0, 0,
            0, 0, 0, 0, 0, 0, 0, 0, 0, 0]

# mayor 81
sv_m81 = [0.15, 0.17, 0.20, 0.23, 0.26, 0.29, 0.32, 0.34, 0.36, 0.37,
          0.36, 0.33, 0.28, 0.22, 0.21, 0.35, 0.65, 1.00, 1.35, 1.62,
          1.73, 1.60, 1.30, 1.00, 0.75, 0.50, 0.36, 0.27, 0.20, 0.16,
          0.14, 0.08, 0.07, 0.10, 0.15, 0.22, 0.26, 0.29, 0.32, 0.34,
          0.35, 0.34, 0.32, 0.30, 0.28, 0.25, 0.22, 0.20, 0.18, 0.16,
          0.15, 0.15, 0.16, 0.17, 0.18, 0.19, 0.19, 0.19, 0.19, 0.19]
ec14_m81 = [0.05, 0.07, 0.10, 0.13, 0.16, 0.20, 0.24, 0.28, 0.31, 0.33,
            0.34, 0.34, 0.34, 0.45, 0.65, 1.30, 2.20, 3.00, 3.70, 4.10,
            4.40, 4.10, 3.20, 2.40, 1.90, 1.65, 1.50, 1.30, 1.10, 0.80,
            0.50, 0.36, 0.40, 0.55, 0.80, 1.00, 0.98, 0.94, 0.92, 0.93,
            0.95, 0.97, 1.05, 1.20, 1.45, 1.68, 1.80, 1.80, 1.40, 0.95,
            0.72, 0.60, 0.48, 0.44, 0.40, 0.34, 0.25, 0.15, 0.08, 0.02]
ec6_m81 = [0.01, 0.04, 0.08, 0.12, 0.16, 0.20, 0.24, 0.28, 0.32, 0.34,
           0.35, 0.30, 0.20, 0.12, 0.10, 0.25, 0.60, 1.00, 1.40, 1.70,
           1.82, 1.70, 1.40, 1.05, 0.70, 0.42, 0.28, 0.18, 0.10, 0.07,
           0.06, 0.06, 0.10, 0.15, 0.20, 0.24, 0.27, 0.30, 0.33, 0.36,
           0.39, 0.40, 0.39, 0.36, 0.32, 0.29, 0.25, 0.22, 0.19, 0.17,
           0.16, 0.15, 0.15, 0.15, 0.16, 0.17, 0.18, 0.19, 0.20, 0.20]
d114_m81 = [0.02, 0.02, 0.02, 0.02, 0.02, 0.02, 0.02, 0.02, 0.02, 0.02,
            0.02, 0.02, 0.03, 0.08, 0.30, 1.20, 2.40, 3.60, 4.30, 4.70,
            4.85, 4.20, 3.00, 1.80, 1.10, 0.75, 0.55, 0.42, 0.34, 0.30,
            0.27, 0.26, 0.26, 0.28, 0.32, 0.38, 0.44, 0.50, 0.55, 0.57,
            0.57, 0.56, 0.55, 0.55, 0.54, 0.53, 0.48, 0.38, 0.30, 0.25,
            0.22, 0.21, 0.20, 0.20, 0.20, 0.20, 0.20, 0.20, 0.20, 0.20]
d16_m81 = [0.01, 0.01, 0.01, 0.01, 0.01, 0.01, 0.01, 0.01, 0.01, 0.01,
           0.01, 0.01, 0.01, 0.01, 0.02, 0.04, 0.08, 0.14, 0.22, 0.30,
           0.38, 0.43, 0.45, 0.43, 0.38, 0.32, 0.27, 0.23, 0.19, 0.16,
           0.14, 0.13, 0.13, 0.14, 0.16, 0.18, 0.20, 0.22, 0.25, 0.28,
           0.30, 0.31, 0.30, 0.28, 0.26, 0.24, 0.22, 0.20, 0.18, 0.17,
           0.16, 0.16, 0.17, 0.18, 0.18, 0.19, 0.19, 0.20, 0.20, 0.20]
d214_m81 = [0.02, 0.02, 0.02, 0.02, 0.02, 0.02, 0.02, 0.02, 0.02, 0.02,
            0.02, 0.02, 0.02, 0.02, 0.02, 0.02, 0.02, 0.02, 0.02, 0.02,
            0.02, 0.02, 0.02, 0.02, 0.02, 0.02, 0.02, 0.02, 0.02, 0.02,
            0.02, 0.02, 0.02, 0.02, 0.03, 0.05, 0.07, 0.08, 0.08, 0.08,
            0.08, 0.08, 0.08, 0.08, 0.07, 0.05, 0.03, 0.02, 0.02, 0.02,
            0.02, 0.02, 0.02, 0.02, 0.02, 0.02, 0.02, 0.02, 0.02, 0.02]
d26_m81 = [0, 0, 0, 0, 0, 0, 0, 0, 0, 0,
           0, 0, 0, 0, 0, 0, 0, 0, 0, 0,
           0, 0, 0, 0, 0, 0, 0, 0, 0, 0,
           0, 0, 0, 0, 0, 0, 0, 0, 0, 0,
           0, 0, 0, 0, 0, 0, 0, 0, 0, 0,
           0, 0, 0, 0, 0, 0, 0, 0, 0, 0]

por_grupo = {
    "03-05": [sv_0305, ec14_0305, ec6_0305, d114_0305, d16_0305, d214_0305, d26_0305],
    "06-11": [sv_0611, ec14_0611, ec6_0611, d114_0611, d16_0611, d214_0611, d26_0611],
    "12-20": [sv_1220, ec14_1220, ec6_1220, d114_1220, d16_1220, d214_1220, d26_1220],
    "21-30": [sv_2130, ec14_2130, ec6_2130, d114_2130, d16_2130, d214_2130, d26_2130],
    "31-40": [sv_3140, ec14_3140, ec6_3140, d114_3140, d16_3140, d214_3140, d26_3140],
    "41-50": [sv_4150, ec14_4150, ec6_4150, d114_4150, d16_4150, d214_4150, d26_4150],
    "51-60": [sv_5160, ec14_5160, ec6_5160, d114_5160, d16_5160, d214_5160, d26_5160],
    "61-70": [sv_6170, ec14_6170, ec6_6170, d114_6170, d16_6170, d214_6170, d26_6170],
    "71-80": [sv_7180, ec14_7180, ec6_7180, d114_7180, d16_7180, d214_7180, d26_7180],
    "mayor 81": [sv_m81, ec14_m81, ec6_m81, d114_m81, d16_m81, d214_m81, d26_m81],
}

filas = []
for g in grupos:
    for s, vals in zip(series, por_grupo[g]):
        for i, v in enumerate(vals):
            filas.append((g, s, i, weeks[i], float(v)))
df = pd.DataFrame(filas, columns=["grupo", "serie", "idx", "semana", "valor"])

paleta = dict(zip(series, colores))
orden_dibujo = [series[6], series[5], series[4], series[1], series[3], series[2], series[0]]

# ---------------- figure ----------------
fig, axes = plt.subplots(3, 4, figsize=(13.43, 6.52), dpi=100, sharey=True)
fig.subplots_adjust(left=0.067, right=0.9873, top=0.954, bottom=0.2086,
                    wspace=0.0264, hspace=0.646)

txt_grey = "#4D4D4D"
for k, ax in enumerate(axes.flat):
    if k >= len(grupos):
        ax.set_visible(False)
        continue
    g = grupos[k]
    sub = df[df["grupo"] == g]
    sns.lineplot(data=sub, x="idx", y="valor", hue="serie", hue_order=orden_dibujo,
                 palette=paleta, linewidth=1.7, legend=False, errorbar=None, ax=ax)
    ax.set_xlim(-0.6, 59.6)
    ax.set_ylim(-0.28, 5.93)
    ax.set_xticks(list(range(0, len(weeks), 3)))
    ax.set_xticklabels(tick_labels, rotation=30, ha="right", rotation_mode="anchor",
                       fontsize=9.8, color=txt_grey)
    ax.yaxis.set_major_locator(FixedLocator(y_ticks))
    ax.yaxis.set_minor_locator(AutoMinorLocator(2))
    ax.set_yticklabels([f"{t:.1f}" for t in y_ticks], fontsize=14, color=txt_grey)
    ax.tick_params(axis="both", which="both", length=0)
    ax.tick_params(axis="x", pad=3)
    ax.tick_params(axis="y", pad=3)
    ax.grid(which="major", color="#EBEBEB", linewidth=1.1)
    ax.grid(which="minor", axis="y", color="#F0F0F0", linewidth=0.6)
    ax.set_axisbelow(True)
    for sp in ax.spines.values():
        sp.set_visible(False)
    ax.set_xlabel("")
    ax.set_ylabel("")
    ax.set_title(g, fontsize=8.2, color="#1A1A1A", pad=5)

fig.text(0.0134, 0.509, "Incidencia de Defunciónes", rotation=90,
         ha="center", va="center", fontsize=15, color="#1A1A1A")
fig.text(0.527, 0.118, "Semana epidemiológica", ha="center", va="center",
         fontsize=14.2, color="#1A1A1A")

handles = [Line2D([0], [0], color=paleta[s], linewidth=1.8) for s in series]
fig.legend(handles, series, ncol=4, loc="center left", bbox_to_anchor=(0.0767, 0.0325),
           frameon=False, fontsize=11.3, handlelength=1.1, handletextpad=0.6,
           columnspacing=1.25, labelspacing=0.52, borderpad=0, borderaxespad=0)

fig.savefig("out.png", dpi=100)
